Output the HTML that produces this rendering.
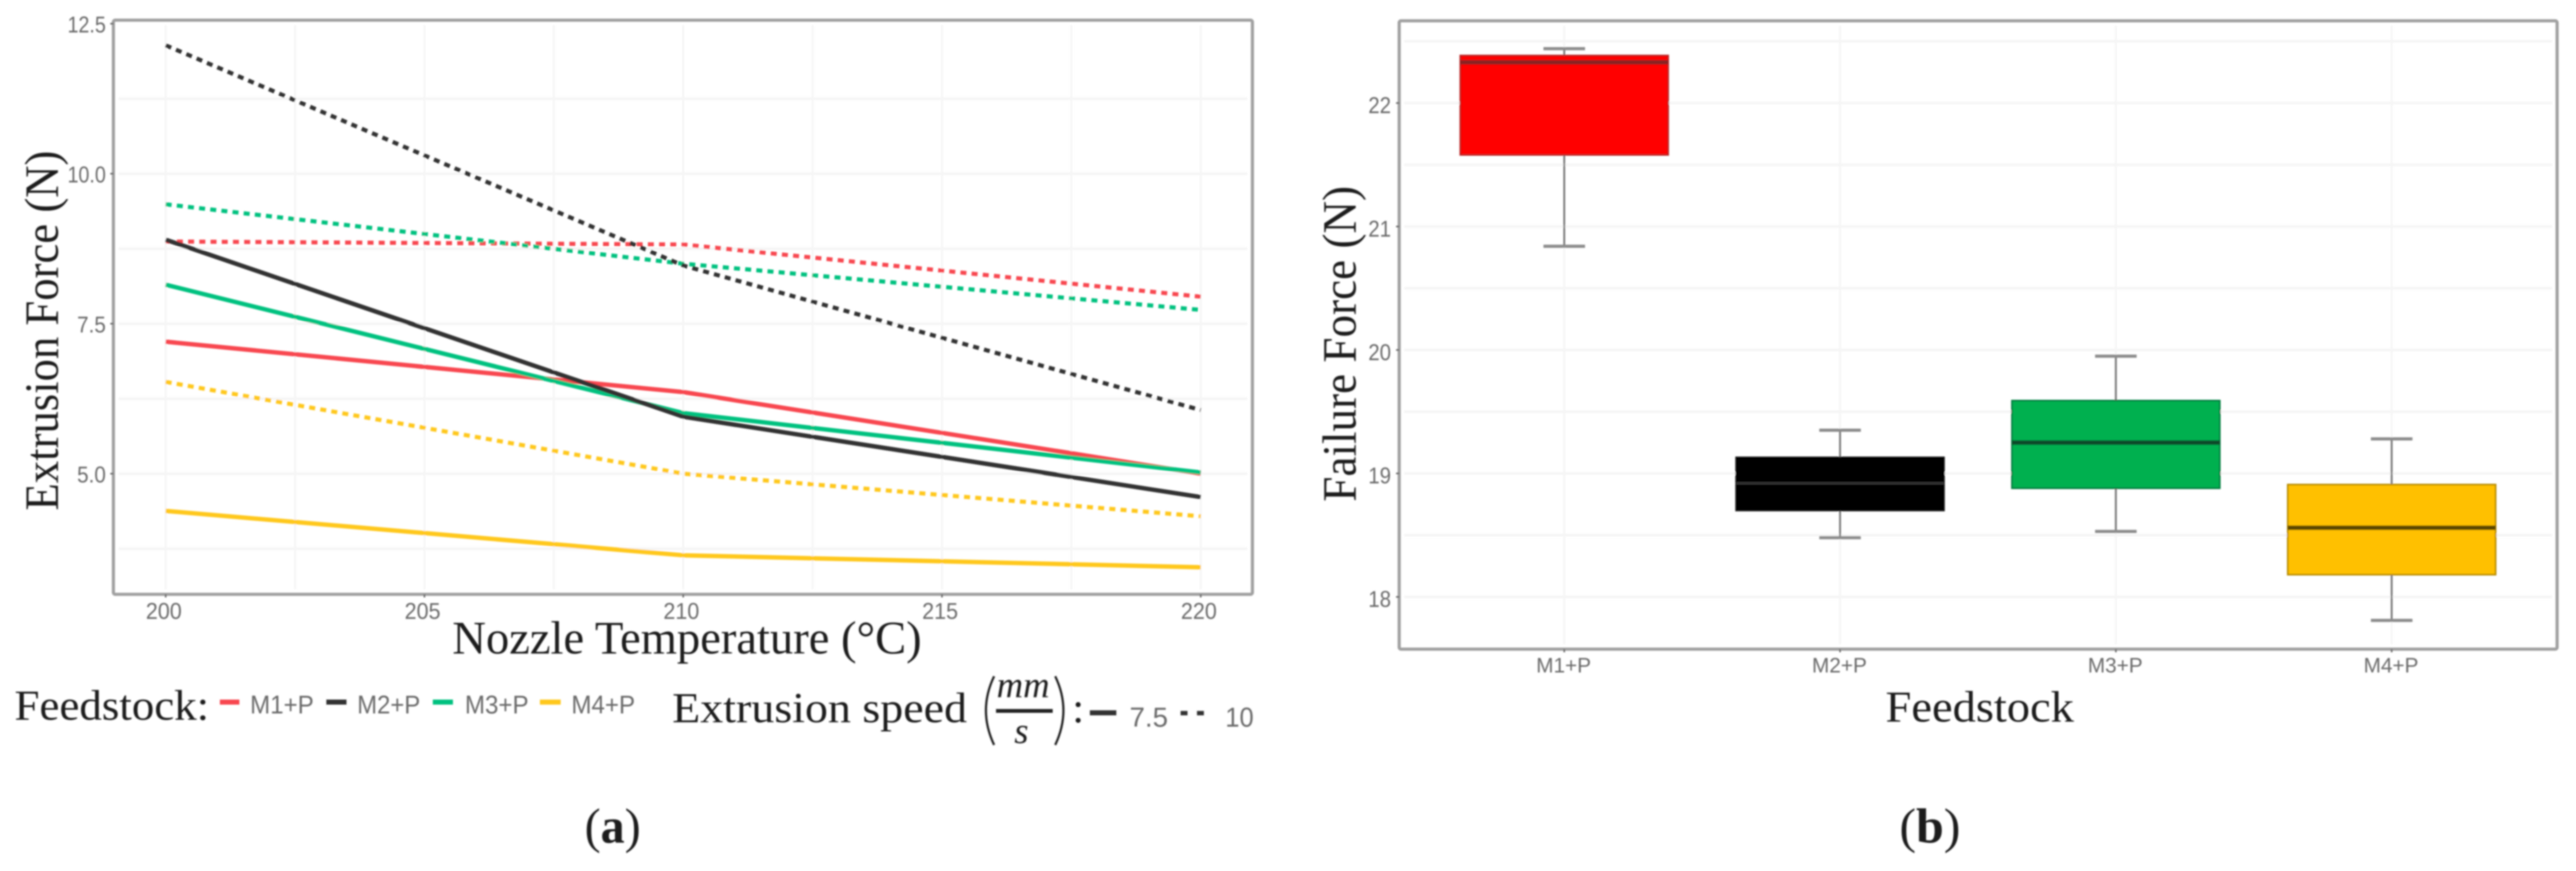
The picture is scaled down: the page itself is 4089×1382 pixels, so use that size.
<!DOCTYPE html>
<html>
<head>
<meta charset="utf-8">
<title>Extrusion and failure force charts</title>
<style>
html,body{margin:0;padding:0;background:#fff;}
svg{display:block;}
.serif{font-family:"Liberation Serif",serif;fill:#1a1a1a;}
.sans{font-family:"Liberation Sans",sans-serif;fill:#6a6a6a;}
</style>
</head>
<body>
<svg id="fig" xmlns="http://www.w3.org/2000/svg" width="4089" height="1382" viewBox="0 0 4089 1382">
<defs><filter id="soft" x="-2%" y="-2%" width="104%" height="104%"><feGaussianBlur stdDeviation="1.4"/></filter></defs>
<rect width="4089" height="1382" fill="#fff"/>
<g id="root" filter="url(#soft)">
  <g id="panelA"></g>
  <g id="panelB"></g>

  <text class="serif" x="718" y="1037" font-size="74" textLength="745" lengthAdjust="spacingAndGlyphs">Nozzle Temperature (°C)</text>
  <text class="serif" transform="translate(92,810) rotate(-90)" font-size="76" textLength="571" lengthAdjust="spacingAndGlyphs">Extrusion Force (N)</text>

  <g>
    <text class="serif" x="23" y="1142" font-size="68" textLength="309" lengthAdjust="spacingAndGlyphs">Feedstock:</text>
    <rect x="349" y="1110" width="31" height="8" fill="#f8464f"/>
    <text class="sans" x="397" y="1132" font-size="41" textLength="101" lengthAdjust="spacingAndGlyphs">M1+P</text>
    <rect x="518" y="1110" width="32" height="8" fill="#333"/>
    <text class="sans" x="567" y="1132" font-size="41" textLength="100" lengthAdjust="spacingAndGlyphs">M2+P</text>
    <rect x="687" y="1110" width="32" height="8" fill="#00c17f"/>
    <text class="sans" x="738" y="1132" font-size="41" textLength="101" lengthAdjust="spacingAndGlyphs">M3+P</text>
    <rect x="857" y="1110" width="33" height="8" fill="#ffc81e"/>
    <text class="sans" x="907" y="1132" font-size="41" textLength="101" lengthAdjust="spacingAndGlyphs">M4+P</text>

    <text class="serif" x="1067" y="1146" font-size="68" textLength="468" lengthAdjust="spacingAndGlyphs">Extrusion speed</text>
    <path d="M1578 1073 Q1552 1127 1578 1182" fill="none" stroke="#222" stroke-width="3.5"/>
    <text class="serif" x="1582" y="1106" font-size="58" font-style="italic" textLength="84" lengthAdjust="spacingAndGlyphs">mm</text>
    <rect x="1581" y="1125" width="90" height="6" fill="#222"/>
    <text class="serif" x="1610" y="1179" font-size="58" font-style="italic">s</text>
    <path d="M1675 1073 Q1701 1127 1675 1182" fill="none" stroke="#222" stroke-width="3.5"/>
    <text class="serif" x="1702" y="1146" font-size="68">:</text>
    <rect x="1730" y="1127" width="42" height="8" fill="#333"/>
    <text class="sans" x="1793" y="1153" font-size="44" textLength="61" lengthAdjust="spacingAndGlyphs">7.5</text>
    <rect x="1874" y="1128" width="11" height="7" fill="#333"/>
    <rect x="1900" y="1128" width="11" height="7" fill="#333"/>
    <text class="sans" x="1945" y="1153" font-size="44" textLength="45" lengthAdjust="spacingAndGlyphs">10</text>
  </g>

  <text class="serif" x="928" y="1337" font-size="78" textLength="89" lengthAdjust="spacingAndGlyphs">(<tspan font-weight="bold">a</tspan>)</text>

  <text class="serif" x="2993" y="1145" font-size="70" textLength="299" lengthAdjust="spacingAndGlyphs">Feedstock</text>
  <text class="serif" transform="translate(2152,796) rotate(-90)" font-size="76" textLength="501" lengthAdjust="spacingAndGlyphs">Failure Force (N)</text>
  <text class="serif" x="3015" y="1337" font-size="78" textLength="97" lengthAdjust="spacingAndGlyphs">(<tspan font-weight="bold">b</tspan>)</text>
</g>
</svg>
<script>
var NS = 'http://www.w3.org/2000/svg';

// ---- panel (a) data ----
var temperatures = [200, 210, 220];
var xTicksA = [200, 205, 210, 215, 220];
var yTicksA = [5, 7.5, 10, 12.5];
var yTickLabelsA = ['5.0', '7.5', '10.0', '12.5'];
var xGridA = [200, 202.5, 205, 207.5, 210, 212.5, 215, 217.5, 220];
var yGridA = [3.75, 5, 6.25, 7.5, 8.75, 10, 11.25];
var m1Solid = [7.2, 6.36, 5.0];
var m2Solid = [8.9, 5.95, 4.61];
var m3Solid = [8.15, 6.01, 5.02];
var m4Solid = [4.38, 3.64, 3.44];
var m1Dotted = [8.87, 8.82, 7.95];
var m2Dotted = [12.14, 8.47, 6.06];
var m3Dotted = [9.49, 8.5, 7.73];
var m4Dotted = [6.53, 5.0, 4.29];

// ---- panel (b) data ----
var feedstocks = ['M1+P', 'M2+P', 'M3+P', 'M4+P'];
var whiskerHigh = [22.44, 19.35, 19.95, 19.28];
var quartile3 = [22.385, 19.13, 19.59, 18.91];
var medians = [22.33, 18.92, 19.25, 18.56];
var quartile1 = [21.58, 18.70, 18.88, 18.18];
var whiskerLow = [20.84, 18.48, 18.53, 17.81];
var yTicksB = [18, 19, 20, 21, 22];
var yGridB = [18, 18.5, 19, 19.5, 20, 20.5, 21, 21.5, 22, 22.5];

// ---- axis functions ----
function xA(v) { return 263 + (v - 200) * 82.15; }
function yA(v) { return 751.6 - (v - 5) * 95.2; }
function xB(i) { return 2483 + i * 437.8; }
function yB(v) { return 163.5 + (22 - v) * 195.9; }

function mk(parent, tag, attrs, txt) {
  var e = document.createElementNS(NS, tag);
  for (var k in attrs) e.setAttribute(k, attrs[k]);
  if (txt !== undefined) e.textContent = txt;
  parent.appendChild(e);
  return e;
}

var pA = document.getElementById('panelA');
var pB = document.getElementById('panelB');
var el, i;
var gridInset = 8;
var gridColor = '#f5f5f5';
var borderColor = '#a0a0a0';
var tickColor = '#666';

// ---- panel (a) ----
var A = {l: 180, r: 1988, t: 32, b: 943};
for (i = 0; i < xGridA.length; i++) {
  el = mk(pA, 'line', {x1: xA(xGridA[i]), x2: xA(xGridA[i]), y1: A.t + gridInset, y2: A.b - gridInset, stroke: gridColor, 'stroke-width': 3});
  
  
}
for (i = 0; i < yGridA.length; i++) {
  el = mk(pA, 'line', {x1: A.l + gridInset, x2: A.r - gridInset, y1: yA(yGridA[i]), y2: yA(yGridA[i]), stroke: gridColor, 'stroke-width': 4});
  
  
}
el = mk(pA, 'rect', {x: A.l, y: A.t, width: A.r - A.l, height: A.b - A.t, rx: 3, fill: 'none', stroke: borderColor, 'stroke-width': 5});



for (i = 0; i < xTicksA.length; i++) {
  el = mk(pA, 'line', {x1: xA(xTicksA[i]), x2: xA(xTicksA[i]), y1: A.b, y2: A.b + 5, stroke: tickColor, 'stroke-width': 2.5});
  
  
  el = mk(pA, 'text', {x: xA(xTicksA[i]) - 3, y: 982, 'text-anchor': 'middle', 'font-size': 36, 'class': 'sans', textLength: 57, lengthAdjust: 'spacingAndGlyphs'}, String(xTicksA[i]));
  
  
}
for (i = 0; i < yTicksA.length; i++) {
  el = mk(pA, 'line', {x1: A.l - 5, x2: A.l, y1: yA(yTicksA[i]), y2: yA(yTicksA[i]), stroke: tickColor, 'stroke-width': 2.5});
  
  
  el = mk(pA, 'text', {x: 168, y: yA(yTicksA[i]) + 14, 'text-anchor': 'end', 'font-size': 36, 'class': 'sans', textLength: yTickLabelsA[i].length * 15.2, lengthAdjust: 'spacingAndGlyphs'}, yTickLabelsA[i]);
  
  
}

var lineColors = {m1: '#f8464f', m2: '#333333', m3: '#00c17f', m4: '#ffc81e'};
function linePoints(vals) {
  var s = [];
  for (var n = 0; n < temperatures.length; n++) s.push(xA(temperatures[n]) + ',' + yA(vals[n]));
  return s.join(' ');
}
function dottedLine(vals, color) {
  var ln = mk(pA, 'polyline', {points: linePoints(vals), fill: 'none', stroke: color, 'stroke-width': 6.5, 'stroke-dasharray': '9.5 8.3'});
  
  
}
function solidLine(vals, color) {
  var ln = mk(pA, 'polyline', {points: linePoints(vals), fill: 'none', stroke: color, 'stroke-width': 7, 'stroke-linejoin': 'round'});
  
  
}
dottedLine(m1Dotted, lineColors.m1);
dottedLine(m3Dotted, lineColors.m3);
dottedLine(m2Dotted, lineColors.m2);
dottedLine(m4Dotted, lineColors.m4);
solidLine(m1Solid, lineColors.m1);
solidLine(m3Solid, lineColors.m3);
solidLine(m2Solid, lineColors.m2);
solidLine(m4Solid, lineColors.m4);

// ---- panel (b) ----
var B = {l: 2221, r: 4059, t: 33, b: 1030};
var boxHalf = 165, capHalf = 33;
var boxFill = ['#ff0000', '#000000', '#00b04f', '#ffc000'];
var boxEdge = ['#b82020', '#111111', '#067a3c', '#b58a00'];
var medColor = ['#8a2020', '#333333', '#0b4a2a', '#5c4700'];
var medWidth = [7, 4, 7, 7];

for (i = 0; i < yGridB.length; i++) {
  el = mk(pB, 'line', {x1: B.l + gridInset, x2: B.r - gridInset, y1: yB(yGridB[i]), y2: yB(yGridB[i]), stroke: gridColor, 'stroke-width': 4});
  
  
}
for (i = 0; i < feedstocks.length; i++) {
  el = mk(pB, 'line', {x1: xB(i), x2: xB(i), y1: B.t + gridInset, y2: B.b - gridInset, stroke: gridColor, 'stroke-width': 3});
  
  
}
el = mk(pB, 'rect', {x: B.l, y: B.t, width: B.r - B.l, height: B.b - B.t, rx: 3, fill: 'none', stroke: borderColor, 'stroke-width': 5});



for (i = 0; i < yTicksB.length; i++) {
  el = mk(pB, 'line', {x1: B.l - 5, x2: B.l, y1: yB(yTicksB[i]), y2: yB(yTicksB[i]), stroke: tickColor, 'stroke-width': 2.5});
  
  
  el = mk(pB, 'text', {x: 2208, y: yB(yTicksB[i]) + 16, 'text-anchor': 'end', 'font-size': 36, 'class': 'sans', textLength: 36, lengthAdjust: 'spacingAndGlyphs'}, String(yTicksB[i]));
  
  
}

for (i = 0; i < feedstocks.length; i++) {
  var cx = xB(i);
  el = mk(pB, 'line', {x1: cx, x2: cx, y1: B.b, y2: B.b + 5, stroke: tickColor, 'stroke-width': 2.5});
  
  
  el = mk(pB, 'text', {x: cx - 1, y: 1067, 'text-anchor': 'middle', 'font-size': 33, 'class': 'sans', textLength: 87, lengthAdjust: 'spacingAndGlyphs'}, feedstocks[i]);
  
  

  el = mk(pB, 'line', {x1: cx, x2: cx, y1: yB(whiskerHigh[i]), y2: yB(whiskerLow[i]), stroke: '#777', 'stroke-width': 3});
  
  
  el = mk(pB, 'line', {x1: cx - capHalf, x2: cx + capHalf, y1: yB(whiskerHigh[i]), y2: yB(whiskerHigh[i]), stroke: '#8c8c8c', 'stroke-width': 5});
  
  
  el = mk(pB, 'line', {x1: cx - capHalf, x2: cx + capHalf, y1: yB(whiskerLow[i]), y2: yB(whiskerLow[i]), stroke: '#8c8c8c', 'stroke-width': 5});
  
  

  el = mk(pB, 'rect', {x: cx - boxHalf, y: yB(quartile3[i]), width: 2 * boxHalf, height: yB(quartile1[i]) - yB(quartile3[i]), fill: boxFill[i], stroke: boxEdge[i], 'stroke-width': 2.5});
  
  
  el = mk(pB, 'line', {x1: cx - boxHalf, x2: cx + boxHalf, y1: yB(medians[i]), y2: yB(medians[i]), stroke: medColor[i], 'stroke-width': medWidth[i]});
  
  
}
</script>
</body>
</html>
